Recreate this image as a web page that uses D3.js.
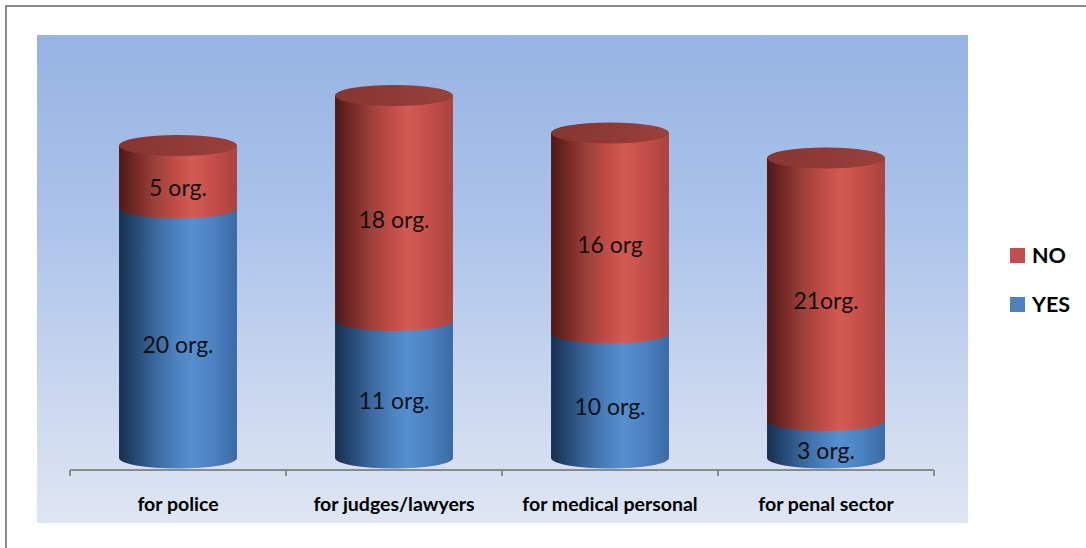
<!DOCTYPE html>
<html>
<head>
<meta charset="utf-8">
<script src="https://cdn.jsdelivr.net/npm/d3@7"></script>
<style>
  html, body { margin: 0; padding: 0; background: #ffffff; }
  svg { display: block; }
</style>
</head>
<body>
<svg id="chart" width="1086" height="548"></svg>
<script>
// Training offered, by target group (number of organisations)
const categories = ["for police", "for judges/lawyers", "for medical personal", "for penal sector"];
const yesValues = [20, 11, 10, 3];
const noValues  = [5, 18, 16, 21];
const yesLabels = ["20 org.", "11 org.", "10 org.", "3 org."];
const noLabels  = ["5 org.", "18 org.", "16 org", "21org."];
const seriesNames = ["YES", "NO"];
const legendOrder = ["NO", "YES"];

const W = 1086, H = 548;
const plot = { x: 37, y: 35, w: 931, h: 488 };
const axisY = 470;        // category axis line
const baseY = 458;        // centre line of the cylinders' bottom ellipse
const ry = 10.5;          // vertical radius of the cylinder ellipses

const svg = d3.select("#chart");
const defs = svg.append("defs");

// background gradient of the plot area
const bg = defs.append("linearGradient").attr("id", "bgGrad")
  .attr("x1", 0).attr("y1", 0).attr("x2", 0).attr("y2", 1);
[[0, "#96b3e2"], [0.4, "#adc4ea"], [0.75, "#cbd8ef"], [1, "#dfe6f3"]]
  .forEach(([o, c]) => bg.append("stop").attr("offset", o).attr("stop-color", c));

// horizontal shading of the cylinder sides
function sideGradient(id, stops) {
  const g = defs.append("linearGradient").attr("id", id)
    .attr("x1", 0).attr("y1", 0).attr("x2", 1).attr("y2", 0);
  stops.forEach(([o, c]) => g.append("stop").attr("offset", o).attr("stop-color", c));
}
sideGradient("sideYES", [[0, "#17304f"], [0.12, "#24456f"], [0.3, "#3a679c"], [0.5, "#4d84c2"], [0.62, "#558fd0"], [0.82, "#4a80bf"], [1, "#3a6aa3"]]);
sideGradient("sideNO",  [[0, "#4e1917"], [0.12, "#6e2724"], [0.3, "#9c3f3a"], [0.5, "#c44f48"], [0.62, "#d35b53"], [0.82, "#c24d47"], [1, "#a9433e"]]);
sideGradient("capNO",   [[0, "#863531"], [0.5, "#8f3a36"], [1, "#9a403b"]]);

const colors = { YES: "#4f81bd", NO: "#c0504d" };

// outer frame
svg.append("rect").attr("x", 6).attr("y", 6).attr("width", W + 20).attr("height", H + 20)
  .attr("fill", "#ffffff").attr("stroke", "#8c8c8c").attr("stroke-width", 2);

// plot area
svg.append("rect").attr("x", plot.x).attr("y", plot.y).attr("width", plot.w).attr("height", plot.h)
  .attr("fill", "url(#bgGrad)");

// scales
const x = d3.scaleBand().domain(categories).range([70, 934]).padding(0);
const barW = x.bandwidth() * 0.546;
const rx = barW / 2;
const y = d3.scaleLinear().domain([0, 30]).range([baseY, baseY - 375]);

// stacked data
const rows = categories.map((c, i) => ({ cat: c, YES: yesValues[i], NO: noValues[i] }));
const stack = d3.stack().keys(seriesNames)(rows);
const labelText = { YES: yesLabels, NO: noLabels };

// category axis
const axis = d3.axisBottom(x).tickSize(0).tickFormat("");
const axisG = svg.append("g").attr("transform", `translate(0,${axisY})`).call(axis);
axisG.select(".domain").attr("stroke", "#8a8a8a").attr("stroke-width", 2).attr("d", `M70,0H934`);
// tick marks at category boundaries
const bounds = categories.map(c => x(c)).concat([x.range()[1]]);
axisG.selectAll("line.bound").data(bounds).enter().append("line")
  .attr("class", "bound").attr("x1", d => d).attr("x2", d => d)
  .attr("y1", 0).attr("y2", 6).attr("stroke", "#8a8a8a").attr("stroke-width", 2);

// cylinders: each segment is a side body with a rounded bottom; drawn bottom-up
const segPath = (cx, yTop, yBot) => {
  const l = cx - rx, r = cx + rx;
  return `M${l},${yTop} L${l},${yBot} A${rx},${ry} 0 0 0 ${r},${yBot} L${r},${yTop} Z`;
};

const bars = svg.append("g");
stack.forEach(layer => {
  const key = layer.key;
  bars.selectAll(null).data(layer).enter().append("path")
    .attr("d", d => {
      const cx = x(d.data.cat) + x.bandwidth() / 2;
      return segPath(cx, y(d[1]), y(d[0]));
    })
    .attr("fill", `url(#side${key})`);
});

// top caps
const topLayer = stack[stack.length - 1];
bars.selectAll(null).data(topLayer).enter().append("ellipse")
  .attr("cx", d => x(d.data.cat) + x.bandwidth() / 2)
  .attr("cy", d => y(d[1]))
  .attr("rx", rx).attr("ry", ry)
  .attr("fill", "url(#capNO)");

// value labels
stack.forEach(layer => {
  const key = layer.key;
  svg.append("g").selectAll("text").data(layer).enter().append("text")
    .attr("x", d => x(d.data.cat) + x.bandwidth() / 2)
    .attr("y", d => (y(d[0]) + y(d[1])) / 2 + ry)
    .attr("text-anchor", "middle")
    .attr("dominant-baseline", "central")
    .attr("font-family", "Lato, 'Open Sans', sans-serif")
    .attr("font-size", 23)
    .attr("fill", "#111111")
    .text((d, i) => labelText[key][i]);
});

// category labels
svg.append("g").selectAll("text").data(categories).enter().append("text")
  .attr("x", d => x(d) + x.bandwidth() / 2)
  .attr("y", 511)
  .attr("text-anchor", "middle")
  .attr("font-family", "Lato, 'Open Sans', sans-serif")
  .attr("font-weight", "bold")
  .attr("font-size", 19.5)
  .attr("fill", "#000")
  .text(d => d);

// legend
const legend = svg.append("g");
legendOrder.forEach((name, i) => {
  const ly = 248 + i * 49;
  legend.append("rect").attr("x", 1010).attr("y", ly).attr("width", 15).attr("height", 15)
    .attr("fill", colors[name]);
  legend.append("text").attr("x", 1032).attr("y", ly + 15)
    .attr("font-family", "Lato, 'Open Sans', sans-serif")
    .attr("font-weight", "bold").attr("font-size", 21.5)
    .attr("fill", "#000").text(name);
});
</script>
</body>
</html>
